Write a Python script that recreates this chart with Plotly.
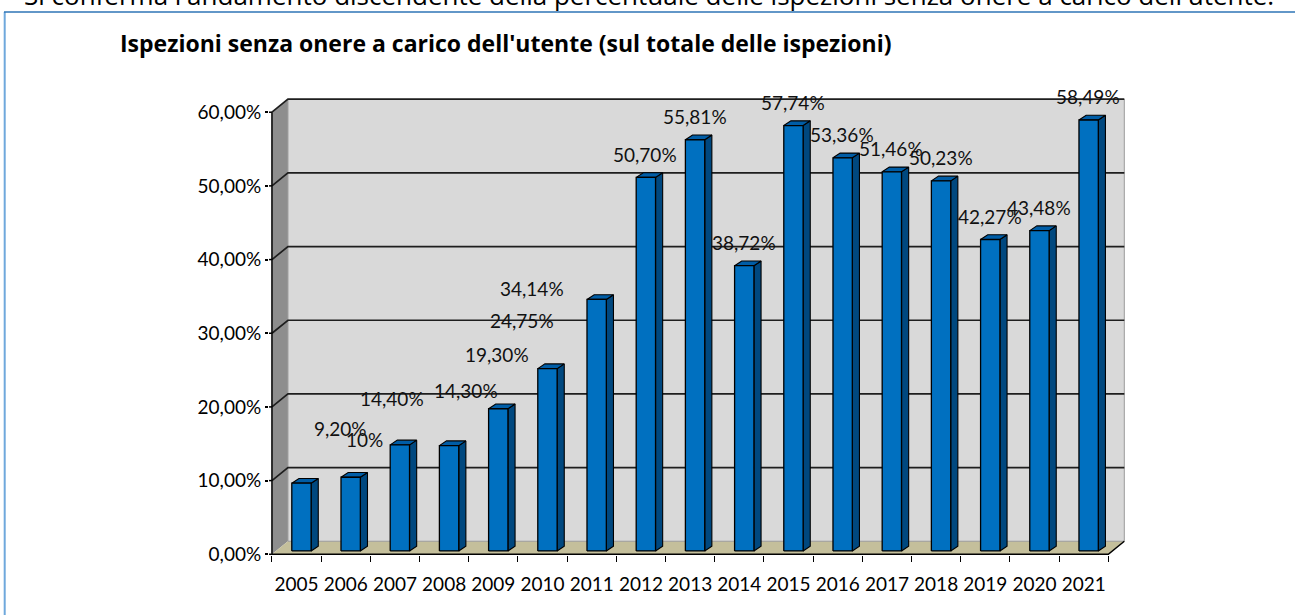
import plotly.graph_objects as go

# ---------------- data ----------------
years = ["2005", "2006", "2007", "2008", "2009", "2010", "2011", "2012", "2013",
         "2014", "2015", "2016", "2017", "2018", "2019", "2020", "2021"]
values = [9.20, 10.00, 14.40, 14.30, 19.30, 24.75, 34.14, 50.70, 55.81,
          38.72, 57.74, 53.36, 51.46, 50.23, 42.27, 43.48, 58.49]
value_labels = ["9,20%", "10%", "14,40%", "14,30%", "19,30%", "24,75%", "34,14%",
                "50,70%", "55,81%", "38,72%", "57,74%", "53,36%", "51,46%",
                "50,23%", "42,27%", "43,48%", "58,49%"]
y_ticks = [0, 10, 20, 30, 40, 50, 60]
y_tick_labels = ["0,00%", "10,00%", "20,00%", "30,00%", "40,00%", "50,00%", "60,00%"]

title_text = "Ispezioni senza onere a carico dell'utente (sul totale delle ispezioni)"
intro_text = ("Si conferma l'andamento discendente della percentuale delle ispezioni "
              "senza onere a carico dell'utente.")

# label placement offsets (category units, percentage points) relative to bar top
label_dx = [0.903, 0.391, -0.066, 0.435, 0.065, -0.427, -1.213] + [0.09] * 10
label_dy = [7.86, 5.57, 6.73, 7.96, 7.85, 7.01, 1.97] + [3.6] * 10

# ---------------- geometry / style ----------------
W, H = 1295, 615
ML, MR, MT, MB = 269, 167, 96, 60
XR = [-0.56, 16.9]
YR = [-0.1, 62.2]
n = len(values)
X0, X1 = -0.5, n - 0.5          # front edge of floor
WDX, WDY = 0.325, 1.765         # wall depth offset
BW, BXS, BB = 0.393, 0.10, 0.45  # bar front width, x shift, base lift
BDX, BDY = 0.145, 0.64          # bar depth

FONT = "Lato, 'Open Sans', sans-serif"
FONT2 = "'Open Sans', 'Noto Sans', sans-serif"
pw, ph = W - ML - MR, H - MT - MB


def px2paper_x(px):
    return (px - ML) / pw


def py2paper_y(py):
    return (H - MB - py) / ph


def poly(points_list):
    xs, ys = [], []
    for pts in points_list:
        for (a, b) in pts:
            xs.append(a)
            ys.append(b)
        xs.append(pts[0][0])
        ys.append(pts[0][1])
        xs.append(None)
        ys.append(None)
    return xs, ys


fig = go.Figure()


def add_fill(pts_list, fill, line_color=None, line_width=0):
    xs, ys = poly(pts_list)
    fig.add_trace(go.Scatter(
        x=xs, y=ys, mode="lines", fill="toself", fillcolor=fill,
        line=dict(color=line_color or fill, width=line_width),
        hoverinfo="skip", showlegend=False))


def add_lines(segs, color, width):
    xs, ys = [], []
    for pts in segs:
        for (a, b) in pts:
            xs.append(a)
            ys.append(b)
        xs.append(None)
        ys.append(None)
    fig.add_trace(go.Scatter(x=xs, y=ys, mode="lines",
                             line=dict(color=color, width=width),
                             hoverinfo="skip", showlegend=False))


ytop = y_ticks[-1]
# back wall
add_fill([[(X0 + WDX, WDY), (X1 + WDX, WDY), (X1 + WDX, ytop + WDY), (X0 + WDX, ytop + WDY)]], "#D9D9D9")
# left side wall
add_fill([[(X0, 0), (X0 + WDX, WDY), (X0 + WDX, ytop + WDY), (X0, ytop)]], "#8E8E8E")
# floor
add_fill([[(X0, 0), (X1, 0), (X1 + WDX, WDY), (X0 + WDX, WDY)]], "#C4BF9B")

# subtle edges
add_lines([[(X0 + WDX, WDY), (X1 + WDX, WDY)],
           [(X1 + WDX, WDY), (X1 + WDX, ytop + WDY)],
           [(X0 + WDX, WDY), (X0 + WDX, ytop + WDY)]], "#9A9A9A", 1)

# gridlines (side wall diagonal + back wall)
grid = []
for v in y_ticks[1:]:
    grid.append([(X0, v), (X0 + WDX, v + WDY), (X1 + WDX, v + WDY)])
add_lines(grid, "#1E1E1E", 1.7)

# axis lines and tick stubs inside the plot
add_lines([[(X0, 0), (X0, ytop)],
           [(X0, 0), (X1, 0), (X1 + WDX, WDY)]] +
          [[(X0, v), (XR[0], v)] for v in y_ticks], "#000000", 1.5)

# bars
sides, tops, fronts = [], [], []
for i, v in enumerate(values):
    xl = i + BXS - BW / 2
    xr = i + BXS + BW / 2
    b0, b1 = BB, BB + v
    fronts.append([(xl, b0), (xr, b0), (xr, b1), (xl, b1)])
    sides.append([(xr, b0), (xr + BDX, b0 + BDY), (xr + BDX, b1 + BDY), (xr, b1)])
    tops.append([(xl, b1), (xr, b1), (xr + BDX, b1 + BDY), (xl + BDX, b1 + BDY)])
add_fill(sides, "#00487F", "#000000", 1.1)
add_fill(tops, "#005DA6", "#000000", 1.1)
add_fill(fronts, "#0070C0", "#000000", 1.3)

# data labels
for i, v in enumerate(values):
    fig.add_annotation(x=i + label_dx[i], y=v + label_dy[i], xref="x", yref="y",
                       text=value_labels[i], showarrow=False,
                       font=dict(family=FONT, size=19, color="#111111"),
                       xanchor="center", yanchor="middle")

# title & clipped intro sentence
fig.add_annotation(x=px2paper_x(118), y=py2paper_y(43), xref="paper", yref="paper",
                   text="<b>" + title_text + "</b>", showarrow=False,
                   xanchor="left", yanchor="middle",
                   font=dict(family=FONT2, size=23, color="#000000"))
fig.add_annotation(x=px2paper_x(22), y=py2paper_y(-5), xref="paper", yref="paper",
                   text=intro_text, showarrow=False,
                   xanchor="left", yanchor="middle",
                   font=dict(family=FONT2, size=26, color="#000000"))

# container border (left and top)
fig.add_shape(type="line", xref="paper", yref="paper",
              x0=px2paper_x(4.7), x1=px2paper_x(4.7), y0=py2paper_y(12), y1=py2paper_y(616),
              line=dict(color="#6FA8DC", width=2))
fig.add_shape(type="line", xref="paper", yref="paper",
              x0=px2paper_x(4), x1=px2paper_x(1296), y0=py2paper_y(12), y1=py2paper_y(12),
              line=dict(color="#2E75B6", width=1.3))

fig.update_layout(
    width=W, height=H,
    margin=dict(l=ML, r=MR, t=MT, b=MB, autoexpand=False),
    paper_bgcolor="white", plot_bgcolor="white",
    showlegend=False,
    xaxis=dict(range=XR, showgrid=False, zeroline=False, showline=False,
               tickmode="array", tickvals=list(range(n)), ticktext=years,
               ticks="outside", ticklen=12, tickcolor="rgba(0,0,0,0)",
               tickfont=dict(family=FONT, size=19, color="#000000"),
               minor=dict(tickmode="array", tickvals=[k - 0.5 for k in range(n + 1)],
                          ticks="outside", ticklen=6, tickcolor="#000000", tickwidth=1.3,
                          showgrid=False),
               fixedrange=True),
    yaxis=dict(range=YR, showgrid=False, zeroline=False, showline=False,
               tickmode="array", tickvals=y_ticks, ticktext=y_tick_labels,
               ticks="outside", ticklen=3, tickcolor="#000000", tickwidth=1.5,
               tickfont=dict(family=FONT, size=19, color="#000000"),
               fixedrange=True),
)

fig.write_html("out.html", config={"displayModeBar": False},
               post_script="document.body.style.margin='0';document.body.style.padding='0';")
